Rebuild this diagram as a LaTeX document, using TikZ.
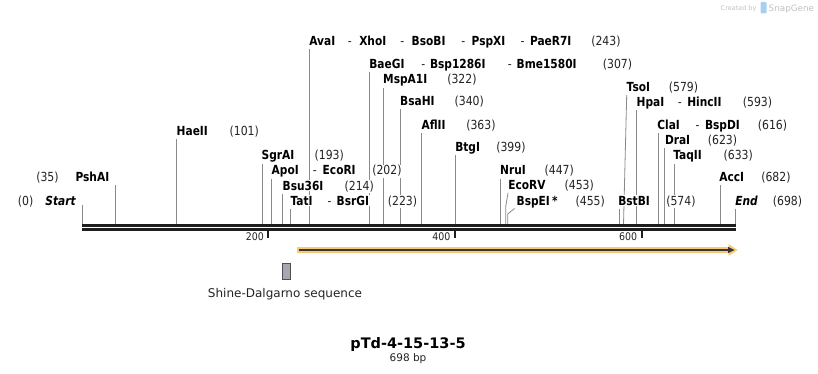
\documentclass[tikz,border=0pt]{standalone}
\usepackage{fontspec}
\setmainfont{DejaVu Sans}
\newfontfamily\enzfont[FakeStretch=0.85]{DejaVu Sans}
\newfontfamily\numfont[FakeStretch=0.87]{DejaVu Sans}
\newfontfamily\tickfont[FakeStretch=0.9]{DejaVu Sans}
\usetikzlibrary{arrows.meta}
\definecolor{cutgray}{RGB}{138,138,138}
\definecolor{dnablack}{RGB}{30,30,30}
\definecolor{numgray}{RGB}{35,35,35}
\definecolor{featorange}{RGB}{250,202,115}
\definecolor{featdark}{RGB}{55,55,55}
\definecolor{sdfill}{RGB}{164,168,176}
\definecolor{sdborder}{RGB}{80,80,80}
\definecolor{wmgray}{RGB}{190,194,198}
\definecolor{wmblue}{RGB}{165,208,240}
\newcommand{\cutln}[3]{\coordinate (t#1) at (#2,#3); \coordinate (b#1) at (#2,224.5); \draw[cut] (t#1) -- (b#1);}
\begin{document}
\begin{tikzpicture}[x=1pt,y=-1pt,
  enz/.style={anchor=base west, inner xsep=0.6pt, inner ysep=1pt, fill=white, text=black, font=\enzfont\fontsize{12.5}{14}\selectfont\bfseries},
  num/.style={anchor=base west, inner xsep=0.6pt, inner ysep=1pt, fill=white, text=numgray, font=\numfont\fontsize{12.5}{14}\selectfont},
  cut/.style={draw=cutgray, line width=0.8pt},
  dna/.style={draw=dnablack, line width=2.4pt},
  tick/.style={draw=dnablack, line width=1.8pt},
  ticklbl/.style={anchor=base east, inner sep=0pt, text=numgray, font=\tickfont\fontsize{10.5}{12}\selectfont}]
\useasboundingbox (0,0) rectangle (818,374);

% ---- cut-site lines ----
\cutln{0}{82}{205}
\cutln{35}{115}{185}
\cutln{101}{176.5}{139}
\cutln{193}{262.6}{163.5}
\cutln{202}{271.2}{178.5}
\cutln{214}{282.4}{193.5}
\cutln{223}{290.6}{208.5}
\cutln{243}{309.3}{49}
\cutln{307}{369.2}{72.5}
\cutln{322}{383.2}{87.5}
\cutln{340}{400.2}{109.5}
\cutln{363}{421.6}{133.5}
\cutln{399}{455.3}{155}
\cutln{447}{500.2}{178.5}
\coordinate (t453) at (508,193); \coordinate (k453) at (505.8,206); \coordinate (b453) at (505.8,224.5);
\draw[cut] (t453) -- (k453) -- (b453);
\coordinate (t455) at (514.5,208.5); \coordinate (k455) at (507.7,214); \coordinate (b455) at (507.7,224.5);
\draw[cut] (t455) -- (k455) -- (b455);
\cutln{574}{619}{208.5}
\coordinate (t579) at (626.7,95); \coordinate (b579) at (623.5,224.5);
\draw[cut] (t579) -- (b579);
\cutln{593}{636.8}{110}
\cutln{616}{658.3}{133.5}
\cutln{623}{664.8}{148.5}
\cutln{633}{674.2}{163.5}
\cutln{682}{720}{185}
\cutln{698}{735.3}{208.5}

% ---- DNA ----
\coordinate (dl1) at (82,225.5); \coordinate (dr1) at (735.8,225.5);
\coordinate (dl2) at (82,229.4); \coordinate (dr2) at (735.8,229.4);
\draw[dna] (dl1) -- (dr1);
\draw[dna] (dl2) -- (dr2);

% ---- ruler ticks ----
\coordinate (k200a) at (268.3,230); \coordinate (k200b) at (268.3,237.5);
\coordinate (k400a) at (455,230);   \coordinate (k400b) at (455,237.5);
\coordinate (k600a) at (641.7,230); \coordinate (k600b) at (641.7,237.5);
\draw[tick] (k200a) -- (k200b);
\draw[tick] (k400a) -- (k400b);
\draw[tick] (k600a) -- (k600b);
\node[ticklbl] (l200) at (264,240) {200};
\node[ticklbl] (l400) at (450.7,240) {400};
\node[ticklbl] (l600) at (637.4,240) {600};

% ---- feature arrow ----
\fill[featorange] (297,247) -- (728.5,247) -- (728.5,244) -- (737.5,250) -- (728.5,256) -- (728.5,253) -- (297,253) -- cycle;
\draw[featdark, line width=1.6pt] (298.5,250) -- (730,250);
\fill[featdark] (728,246.8) -- (734.5,250) -- (728,253.2) -- cycle;

% ---- Shine-Dalgarno ----
\node[draw=sdborder, fill=sdfill, line width=0.7pt, minimum width=8.5pt, minimum height=16pt, inner sep=0pt] (sd) at (286.5,271) {};
\node[anchor=base, inner sep=0pt, text=numgray, font=\fontsize{12}{14}\selectfont] (sdl) at (285,297) {Shine-Dalgarno sequence};

% ---- title ----
\node[anchor=base, inner sep=0pt, font=\fontsize{14.5}{17}\selectfont\bfseries] (title) at (408,348.5) {pTd-4-15-13-5};
\node[anchor=base, inner sep=0pt, text=numgray, font=\fontsize{10.5}{12}\selectfont] (len) at (408,361.5) {698 bp};

% ---- watermark ----
\node[anchor=base west, inner sep=0pt, text=wmgray, font=\fontsize{6.5}{8}\selectfont] (wm1) at (720.5,10.5) {Created by};
\fill[wmblue, rounded corners=1.2pt] (760.5,2) rectangle (766.5,13.5);
\node[anchor=base west, inner sep=0pt, text=wmgray, font=\fontsize{8.8}{10}\selectfont] (wm2) at (768.5,11.5) {SnapGene};

% ---- enzyme labels ----
\node[num] (n0) at (17.1,205) {(0)};
\node[enz, anchor=base east] (e0) at (76.5,205) {\itshape Start};
\node[num] (n35) at (35.5,181.5) {(35)};
\node[enz, anchor=base east] (e35) at (110,181.5) {PshAI};

\node[enz] (e101) at (175.9,135.5) {HaeII};
\node[num] (n101) at (228.8,135.5) {(101)};

\node[enz] (e193) at (260.9,160) {SgrAI};
\node[num] (n193) at (313.8,160) {(193)};

\node[enz] (e202) at (270.9,175) {ApoI};
\node[num] (d202) at (312.1,175) {-};
\node[enz] (e202b) at (321.9,175) {EcoRI};
\node[num] (n202) at (371.5,175) {(202)};

\node[enz] (e214) at (281.9,190) {Bsu36I};
\node[num] (n214) at (343.8,190) {(214)};

\node[enz] (e223) at (289.8,205) {TatI};
\node[num] (d223) at (326.8,205) {-};
\node[enz] (e223b) at (335.9,205) {BsrGI};
\node[num] (n223) at (387.1,205) {(223)};

\node[enz] (e243) at (308.5,45.5) {AvaI};
\node[num] (d243a) at (347.1,45.5) {-};
\node[enz] (e243b) at (358.5,45.5) {XhoI};
\node[num] (d243b) at (399.5,45.5) {-};
\node[enz] (e243c) at (410.9,45.5) {BsoBI};
\node[num] (d243c) at (460.5,45.5) {-};
\node[enz] (e243d) at (470.9,45.5) {PspXI};
\node[num] (d243d) at (519.8,45.5) {-};
\node[enz] (e243e) at (529.2,45.5) {PaeR7I};
\node[num] (n243) at (590.5,45.5) {(243)};

\node[enz] (e307) at (368.5,69) {BaeGI};
\node[num] (d307a) at (420.5,69) {-};
\node[enz] (e307b) at (429.2,69) {Bsp1286I};
\node[num] (d307b) at (507.1,69) {-};
\node[enz] (e307c) at (515.9,69) {Bme1580I};
\node[num] (n307) at (602.1,69) {(307)};

\node[enz] (e322) at (382.4,84) {MspA1I};
\node[num] (n322) at (446.5,84) {(322)};

\node[enz] (e340) at (399.4,106) {BsaHI};
\node[num] (n340) at (453.8,106) {(340)};

\node[enz] (e363) at (420.8,130) {AflII};
\node[num] (n363) at (465.5,130) {(363)};

\node[enz] (e399) at (454.5,151.5) {BtgI};
\node[num] (n399) at (495.5,151.5) {(399)};

\node[enz] (e447) at (499.4,175) {NruI};
\node[num] (n447) at (543.8,175) {(447)};

\node[enz] (e453) at (507.5,189.5) {EcoRV};
\node[num] (n453) at (563.8,189.5) {(453)};

\node[enz] (e455) at (515.9,205) {BspEI\,*};
\node[num] (n455) at (574.8,205) {(455)};

\node[enz] (e574) at (617.5,205) {BstBI};
\node[num] (n574) at (665.5,205) {(574)};

\node[enz] (e579) at (625.9,91.5) {TsoI};
\node[num] (n579) at (668.1,91.5) {(579)};

\node[enz] (e593) at (635.9,106.5) {HpaI};
\node[num] (d593) at (677.1,106.5) {-};
\node[enz] (e593b) at (686.5,106.5) {HincII};
\node[num] (n593) at (742.1,106.5) {(593)};

\node[enz] (e616) at (656.5,130) {ClaI};
\node[num] (d616) at (694.8,130) {-};
\node[enz] (e616b) at (704.2,130) {BspDI};
\node[num] (n616) at (757.1,130) {(616)};

\node[enz] (e623) at (664.2,145) {DraI};
\node[num] (n623) at (707.1,145) {(623)};

\node[enz] (e633) at (672.5,160) {TaqII};
\node[num] (n633) at (722.8,160) {(633)};

\node[enz] (e682) at (718.5,181.5) {AccI};
\node[num] (n682) at (760.5,181.5) {(682)};

\node[enz] (e698) at (734.6,205) {\itshape End};
\node[num] (n698) at (772.1,205) {(698)};
\end{tikzpicture}
\end{document}
